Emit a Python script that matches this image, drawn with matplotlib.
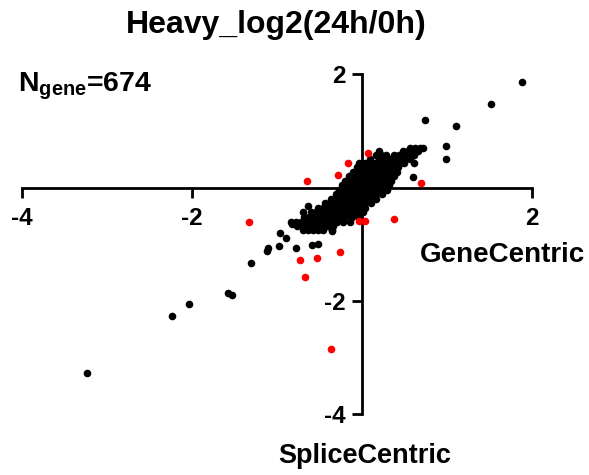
import matplotlib
matplotlib.use("Agg")
import matplotlib.pyplot as plt

plt.rcParams['font.family'] = ['Liberation Sans', 'DejaVu Sans']
plt.rcParams['font.weight'] = 'bold'
plt.rcParams['axes.unicode_minus'] = False
plt.rcParams['mathtext.fontset'] = 'custom'
plt.rcParams['mathtext.rm'] = 'Liberation Sans:bold'
plt.rcParams['mathtext.bf'] = 'Liberation Sans:bold'
plt.rcParams['mathtext.it'] = 'Liberation Sans:bold'

title = "Heavy_log2(24h/0h)"
n_gene = 674
x_label = "GeneCentric"
y_label = "SpliceCentric"
x_ticks = [-4, -2, 2]
y_ticks = [-4, -2, 2]

# dense core of the cloud, read row by row (y value : x values)
core_rows = [
    (0.70, [0.56, 0.62, 0.68, 0.72]),
    (0.64, [0.20, 0.48, 0.54, 0.60, 0.66]),
    (0.57, [0.16, 0.22, 0.28, 0.38, 0.44, 0.50, 0.56, 0.61]),
    (0.50, [0.09, 0.20, 0.26, 0.32, 0.38, 0.44, 0.50, 0.56]),
    (0.43, [-0.03, 0.03, 0.09, 0.15, 0.21, 0.27, 0.33, 0.39, 0.45, 0.49]),
    (0.36, [-0.06, 0.00, 0.06, 0.12, 0.18, 0.24, 0.30, 0.36, 0.42]),
    (0.28, [-0.11, -0.05, 0.01, 0.07, 0.13, 0.19, 0.25, 0.31, 0.37, 0.41]),
    (0.20, [-0.15, -0.09, -0.03, 0.03, 0.09, 0.15, 0.21, 0.27, 0.33, 0.38]),
    (0.12, [-0.20, -0.14, -0.08, -0.02, 0.04, 0.10, 0.16, 0.22, 0.28, 0.34]),
    (0.04, [-0.23, -0.17, -0.11, -0.05, 0.01, 0.07, 0.13, 0.19, 0.25, 0.32]),
    (-0.04, [-0.27, -0.21, -0.15, -0.09, -0.03, 0.03, 0.09, 0.15, 0.21, 0.29]),
    (-0.12, [-0.31, -0.25, -0.19, -0.13, -0.07, -0.01, 0.05, 0.11, 0.17, 0.24]),
    (-0.20, [-0.37, -0.31, -0.25, -0.19, -0.13, -0.07, -0.01, 0.05, 0.11, 0.17]),
    (-0.28, [-0.44, -0.38, -0.32, -0.26, -0.20, -0.14, -0.08, -0.02, 0.04, 0.10]),
    (-0.36, [-0.52, -0.46, -0.40, -0.34, -0.28, -0.22, -0.16, -0.10, -0.04, 0.04]),
    (-0.44, [-0.60, -0.54, -0.48, -0.42, -0.36, -0.30, -0.24, -0.18, -0.12, -0.06, 0.01]),
    (-0.52, [-0.68, -0.62, -0.56, -0.50, -0.44, -0.38, -0.32, -0.26, -0.20, -0.12, -0.04]),
    (-0.60, [-0.78, -0.72, -0.66, -0.60, -0.54, -0.48, -0.42, -0.36, -0.30, -0.22, -0.14]),
    (-0.68, [-0.76, -0.70, -0.64, -0.58, -0.52, -0.46, -0.40, -0.34]),
    (-0.75, [-0.70, -0.64, -0.58, -0.52, -0.46, -0.35]),
]

# scattered black points outside the core
black_x = [-3.24, -2.24, -2.04, -1.58, -1.53, -1.31, -1.12, -1.11, -0.98, -0.97,
           -0.90, -0.78, -0.59, -0.52, -0.35, -0.82, -0.70, -0.64, -0.72, -0.84,
           0.60, 0.61, 0.99, 0.99, 0.74, 1.10, 1.52, 1.88]
black_y = [-3.27, -2.27, -2.06, -1.86, -1.89, -1.34, -1.12, -1.07, -1.03, -0.81,
           -0.90, -1.06, -1.02, -0.99, -0.76, -0.64, -0.43, -0.33, -0.62, -0.60,
           0.19, 0.44, 0.73, 0.51, 1.20, 1.08, 1.48, 1.87]

# highlighted (red) points
red_x = [-0.65, -0.17, -0.28, 0.065, 0.69, -0.04, 0.04, 0.38, -1.33,
         -0.73, -0.53, -0.26, -0.67, -0.36]
red_y = [0.11, 0.43, 0.22, 0.61, 0.085, -0.59, -0.59, -0.55, -0.61,
         -1.28, -1.25, -1.13, -1.58, -2.86]

W, H = 589, 475
fig = plt.figure(figsize=(W / 100, H / 100), dpi=100)
ax = fig.add_axes([22 / W, 1 - 414 / H, 510 / W, (414 - 74.3) / H])

ms = 30
cx = [x for y, xs in core_rows for x in xs]
cy = [y for y, xs in core_rows for x in xs]
ax.scatter(cx, cy, s=ms, c='black', linewidths=0, clip_on=False, zorder=3)
ax.scatter(black_x, black_y, s=ms, c='black', linewidths=0, clip_on=False, zorder=3)
ax.scatter(red_x, red_y, s=ms, c='red', linewidths=0, clip_on=False, zorder=4)

ax.set_xlim(-4, 2)
ax.set_ylim(-4, 2)
ax.spines['left'].set_position(('data', 0))
ax.spines['bottom'].set_position(('data', 0))
ax.spines['top'].set_visible(False)
ax.spines['right'].set_visible(False)
for s in ('left', 'bottom'):
    ax.spines[s].set_linewidth(2)
    ax.spines[s].set_capstyle('projecting')
ax.set_xticks(x_ticks)
ax.set_yticks(y_ticks)
ax.set_xticklabels([str(t) for t in x_ticks])
ax.set_yticklabels([str(t) for t in y_ticks])
ax.tick_params(direction='out', length=7, width=2, labelsize=17.5)
ax.tick_params(axis='x', pad=7)
ax.tick_params(axis='y', pad=5)
for lab in ax.get_xticklabels() + ax.get_yticklabels():
    lab.set_fontweight('bold')
ax.patch.set_visible(False)

def px(x, y):
    return x / W, 1 - y / H

fig.text(*px(276, 33), title, ha='center', va='baseline', fontsize=23, fontweight='bold')
fig.text(*px(18, 92), r"N$\mathregular{_{gene}}$=" + str(n_gene), ha='left', va='baseline',
         fontsize=20.5, fontweight='bold')
fig.text(*px(420, 262), x_label, ha='left', va='baseline', fontsize=20, fontweight='bold')
fig.text(*px(278, 463), y_label, ha='left', va='baseline', fontsize=19.5, fontweight='bold')

fig.savefig("out.png", dpi=100)
